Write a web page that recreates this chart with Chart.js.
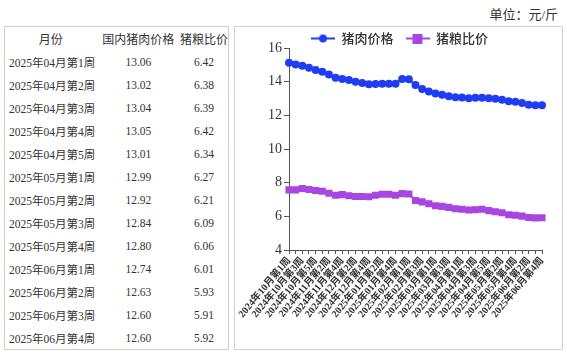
<!DOCTYPE html>
<html>
<head>
<meta charset="utf-8">
<script src="https://cdn.jsdelivr.net/npm/chart.js@4"></script>
<style>
  body { margin: 0; width: 567px; height: 354px; background: #fff; position: relative; overflow: hidden;
         font-family: "Liberation Serif", "Noto Sans CJK SC", serif; color: #333; }
  #unit { position: absolute; right: 9px; top: 4px; font-size: 13px; }
  #tableBox { position: absolute; left: 4px; top: 26px; width: 223px; height: 322px; border: 1px solid #d0d0d0; }
  #tableBox table { border-collapse: collapse; font-size: 11.5px; table-layout: fixed; }
  #tableBox td { height: 23px; padding: 0; white-space: nowrap; }
  #tableBox tr:first-child td { font-size: 12px; }
  #chartBox { position: absolute; left: 234px; top: 26px; width: 327px; height: 322px; border: 1px solid #d0d0d0; }
  #chartWrap { position: absolute; left: 234px; top: 20px; width: 328px; height: 330px; }
</style>
</head>
<body>
<div id="unit">单位：元/斤</div>
<div id="tableBox"><table id="tbl"></table></div>
<div id="chartBox"></div>
<div id="chartWrap"><canvas id="porkChart" width="328" height="330"></canvas></div>
<script>
// 周次标签
const weeks = [
    '2024年10月第1周', '2024年10月第2周', '2024年10月第3周', '2024年10月第4周', '2024年10月第5周',
    '2024年11月第1周', '2024年11月第2周', '2024年11月第3周', '2024年11月第4周',
    '2024年12月第1周', '2024年12月第2周', '2024年12月第3周', '2024年12月第4周',
    '2025年01月第1周', '2025年01月第2周', '2025年01月第3周', '2025年01月第4周', '2025年01月第5周',
    '2025年02月第1周', '2025年02月第2周', '2025年02月第3周', '2025年02月第4周',
    '2025年03月第1周', '2025年03月第2周', '2025年03月第3周', '2025年03月第4周',
    '2025年04月第1周', '2025年04月第2周', '2025年04月第3周', '2025年04月第4周', '2025年04月第5周',
    '2025年05月第1周', '2025年05月第2周', '2025年05月第3周', '2025年05月第4周',
    '2025年06月第1周', '2025年06月第2周', '2025年06月第3周', '2025年06月第4周'
];

// 国内猪肉价格（元/斤）
const porkPrice = [
    15.12, 15.02, 14.94, 14.82, 14.70, 14.59, 14.43, 14.24, 14.16, 14.10,
    14.00, 13.92, 13.84, 13.86, 13.88, 13.88, 13.88, 14.16, 14.14, 13.80,
    13.57, 13.41, 13.29, 13.22, 13.14, 13.08,
    13.06, 13.02, 13.04, 13.05, 13.01, 12.99, 12.92, 12.84, 12.80, 12.74, 12.63, 12.60, 12.60
];

// 猪粮比价
const hogGrainRatio = [
    7.57, 7.57, 7.65, 7.59, 7.53, 7.49, 7.37, 7.25, 7.29, 7.22,
    7.18, 7.18, 7.16, 7.25, 7.31, 7.31, 7.25, 7.35, 7.33, 6.94,
    6.86, 6.75, 6.63, 6.59, 6.53, 6.45,
    6.42, 6.38, 6.39, 6.42, 6.34, 6.27, 6.21, 6.09, 6.06, 6.01, 5.93, 5.91, 5.92
];

const yTicks = [4, 6, 8, 10, 12, 14, 16];
const tableRows = 13; // 表格只列最近13周

const BLUE = '#1f3df2';
const PURPLE = '#a846df';
const TEXT = '#333';

// 左侧表格
const tbl = document.getElementById('tbl');
let html = '<tr><td style="width:92px;text-align:center">月份</td>'
    + '<td style="width:86px;text-align:center">国内猪肉价格</td>'
    + '<td style="width:45px;text-align:center">猪粮比价</td></tr>';
for (let i = weeks.length - tableRows; i < weeks.length; i++) {
    html += '<tr><td style="padding-left:4px">' + weeks[i] + '</td>'
        + '<td style="text-align:center">' + porkPrice[i].toFixed(2) + '</td>'
        + '<td style="text-align:center">' + hogGrainRatio[i].toFixed(2) + '</td></tr>';
}
tbl.innerHTML = html;

// 图例标记：带线的点
function legendMarker(color, shape) {
    const c = document.createElement('canvas');
    c.width = 24; c.height = 10;
    const g = c.getContext('2d');
    g.strokeStyle = color; g.lineWidth = 2;
    g.beginPath(); g.moveTo(0, 5); g.lineTo(24, 5); g.stroke();
    g.fillStyle = color;
    if (shape === 'circle') {
        g.beginPath(); g.arc(12, 5, 4, 0, Math.PI * 2); g.fill();
    } else {
        g.fillRect(7, 0, 10, 10);
    }
    return c;
}
const markers = [legendMarker(BLUE, 'circle'), legendMarker(PURPLE, 'rect')];

// 缩小图例占用的高度
const legendTrim = {
    id: 'legendTrim',
    beforeLayout(chart) {
        const lg = chart.legend;
        if (lg && !lg._trimmed) {
            const fit = lg.fit.bind(lg);
            lg.fit = function () { fit(); this.height -= 7; };
            lg._trimmed = true;
        }
    }
};

const ctx = document.getElementById('porkChart').getContext('2d');
new Chart(ctx, {
    type: 'line',
    data: {
        labels: weeks,
        datasets: [{
            label: '猪肉价格',
            data: porkPrice,
            borderColor: BLUE,
            backgroundColor: BLUE,
            borderWidth: 2,
            pointStyle: 'circle',
            pointRadius: 3,
            tension: 0
        }, {
            label: '猪粮比价',
            data: hogGrainRatio,
            borderColor: PURPLE,
            backgroundColor: PURPLE,
            borderWidth: 2,
            pointStyle: 'rect',
            pointRadius: 3.6,
            tension: 0
        }]
    },
    options: {
        responsive: false,
        devicePixelRatio: 1,
        animation: false,
        layout: { padding: { left: 23, right: 20, top: 0, bottom: 0 } },
        plugins: {
            tooltip: { enabled: false },
            legend: {
                position: 'top',
                labels: {
                    usePointStyle: true,
                    pointStyleWidth: 24,
                    padding: 12,
                    color: TEXT,
                    font: { family: '"Noto Sans CJK SC", sans-serif', size: 13, weight: '500' },
                    generateLabels: chart => chart.data.datasets.map((ds, i) => ({
                        text: ds.label,
                        fillStyle: ds.backgroundColor,
                        strokeStyle: ds.borderColor,
                        lineWidth: 0,
                        pointStyle: markers[i],
                        datasetIndex: i,
                        hidden: false,
                        fontColor: TEXT
                    }))
                }
            }
        },
        scales: {
            x: {
                offset: false,
                grid: { drawOnChartArea: false, tickLength: 4, color: '#555' },
                border: { color: '#555' },
                afterFit: scale => { scale.height = 100; },
                ticks: {
                    autoSkip: false,
                    minRotation: 50,
                    maxRotation: 50,
                    padding: 1,
                    color: TEXT,
                    font: { family: '"Liberation Serif", "Noto Sans CJK SC"', size: 10, weight: 'bold' },
                    callback: function (val, idx) {
                        return idx % 2 === 0 ? this.getLabelForValue(val) : '';
                    }
                }
            },
            y: {
                min: 4,
                max: 16,
                grid: { drawOnChartArea: false, tickLength: 5, color: '#555' },
                border: { color: '#555' },
                afterFit: scale => { scale.width = 32; },
                afterBuildTicks: scale => { scale.ticks = yTicks.map(v => ({ value: v })); },
                ticks: {
                    padding: 2,
                    color: TEXT,
                    font: { family: '"Liberation Serif", serif', size: 14 }
                }
            }
        }
    },
    plugins: [legendTrim]
});
</script>
</body>
</html>
